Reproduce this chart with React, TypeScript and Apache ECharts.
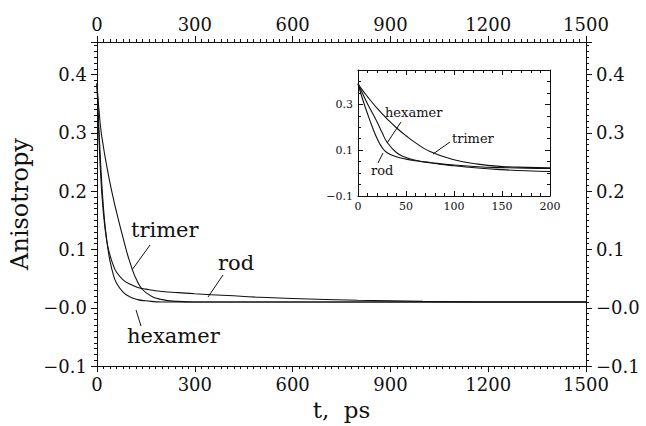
import React, { useEffect, useRef } from "react";
import * as echarts from "echarts";

// Main panel data (t in ps)
const mainT = [0, 10, 20, 30, 40, 50, 60, 80, 100, 125, 150, 200, 250, 300, 400, 500, 600, 800, 1000, 1200, 1500];
const mainTrimer = [0.385, 0.315, 0.275, 0.243, 0.214, 0.188, 0.164, 0.12, 0.08, 0.044, 0.026, 0.014, 0.011, 0.01, 0.01, 0.01, 0.01, 0.01, 0.01, 0.01, 0.01];
const mainHexamer = [0.385, 0.26, 0.17, 0.115, 0.08, 0.057, 0.042, 0.027, 0.019, 0.014, 0.012, 0.01, 0.01, 0.01, 0.01, 0.01, 0.01, 0.01, 0.01, 0.01, 0.01];
const mainRod = [0.385, 0.24, 0.16, 0.115, 0.09, 0.073, 0.061, 0.048, 0.041, 0.035, 0.032, 0.028, 0.026, 0.024, 0.021, 0.018, 0.016, 0.013, 0.011, 0.01, 0.01];

// Inset data (t in ps, 0-200)
const insetT = [0, 5, 10, 15, 20, 25, 30, 40, 50, 60, 75, 100, 125, 150, 175, 200];
const insetTrimer = [0.39, 0.36, 0.333, 0.307, 0.283, 0.26, 0.238, 0.198, 0.163, 0.132, 0.094, 0.058, 0.039, 0.029, 0.025, 0.023];
const insetHexamer = [0.39, 0.345, 0.302, 0.262, 0.222, 0.178, 0.137, 0.09, 0.068, 0.056, 0.045, 0.032, 0.022, 0.015, 0.01, 0.007];
const insetRod = [0.39, 0.32, 0.258, 0.2, 0.15, 0.112, 0.09, 0.071, 0.061, 0.054, 0.046, 0.035, 0.028, 0.024, 0.021, 0.02];

const FONT = '"DejaVu Serif", "Liberation Serif", serif';
const INK = "#111";

const pairs = (xs: number[], ys: number[]) => xs.map((x, i) => [x, ys[i]]);

const fmtY = (v: number) => {
  if (Math.abs(v) < 1e-9) return "\u22120.0";
  if (v < 0) return "\u2212" + Math.abs(v).toFixed(1);
  return v.toFixed(1);
};
const fmtX = (v: number) => String(Math.round(v));

export default function App() {
  const ref = useRef<HTMLDivElement>(null);
  useEffect(() => {
    if (!ref.current) return;
    const chart = echarts.init(ref.current, undefined, { renderer: "svg" });
    const axisLine = { show: true, onZero: false, lineStyle: { color: INK, width: 1 } };
    const mainX = (pos: "bottom" | "top") => ({
      type: "value",
      gridIndex: 0,
      position: pos,
      min: 0,
      max: 1500,
      interval: 300,
      axisLine,
      axisTick: { show: true, length: 6, lineStyle: { color: INK } },
      minorTick: { show: true, splitNumber: 15, length: 3, lineStyle: { color: INK } },
      splitLine: { show: false },
      axisLabel: { fontFamily: FONT, fontSize: 18, color: INK, margin: 9, formatter: fmtX },
      ...(pos === "bottom"
        ? {
            name: "t,  ps",
            nameLocation: "middle",
            nameGap: 29,
            nameTextStyle: { fontFamily: FONT, fontSize: 23, color: INK },
          }
        : {}),
    });
    const mainY = (pos: "left" | "right") => ({
      type: "value",
      gridIndex: 0,
      position: pos,
      min: -0.1,
      max: 0.456,
      interval: 0.1,
      axisLine,
      axisTick: { show: true, length: 6, lineStyle: { color: INK } },
      minorTick: { show: true, splitNumber: 10, length: 3, lineStyle: { color: INK } },
      splitLine: { show: false },
      axisLabel: {
        fontFamily: FONT,
        fontSize: 18,
        color: INK,
        margin: 10,
        showMaxLabel: false,
        formatter: fmtY,
      },
      ...(pos === "left"
        ? {
            name: "Anisotropy",
            nameLocation: "middle",
            nameGap: 61,
            nameTextStyle: { fontFamily: FONT, fontSize: 24, color: INK },
          }
        : {}),
    });
    const insetX = (pos: "bottom" | "top") => ({
      type: "value",
      gridIndex: 1,
      position: pos,
      min: 0,
      max: 200,
      interval: 50,
      axisLine,
      axisTick: { show: true, inside: true, length: 5, lineStyle: { color: INK } },
      minorTick: { show: true, splitNumber: 5, length: 3, lineStyle: { color: INK } },
      splitLine: { show: false },
      axisLabel: { show: pos === "bottom", fontFamily: FONT, fontSize: 11, color: INK, margin: 5, formatter: fmtX },
    });
    const insetY = (pos: "left" | "right") => ({
      type: "value",
      gridIndex: 1,
      position: pos,
      min: -0.1,
      max: 0.45,
      interval: 0.2,
      axisLine,
      axisTick: { show: true, inside: true, length: 5, lineStyle: { color: INK } },
      minorTick: { show: true, splitNumber: 4, length: 3, lineStyle: { color: INK } },
      splitLine: { show: false },
      axisLabel: {
        show: pos === "left",
        fontFamily: FONT,
        fontSize: 11,
        color: INK,
        margin: 5,
        showMaxLabel: false,
        formatter: fmtY,
      },
    });
    const line = (name: string, data: number[][], idx: number) => ({
      type: "line",
      name,
      xAxisIndex: idx === 0 ? 0 : 2,
      yAxisIndex: idx === 0 ? 0 : 2,
      data,
      symbol: "none",
      smooth: 0.5,
      lineStyle: { color: INK, width: 1.1 },
      z: 3,
    });
    const txt = (text: string, x: number, y: number, size: number) => ({
      type: "text",
      x,
      y,
      z: 10,
      style: { text, fontFamily: FONT, fontSize: size, fill: INK, verticalAlign: "middle" },
    });
    const seg = (x1: number, y1: number, x2: number, y2: number) => ({
      type: "line",
      z: 10,
      shape: { x1, y1, x2, y2 },
      style: { stroke: INK, lineWidth: 1 },
    });
    chart.setOption({
      animation: false,
      backgroundColor: "#fff",
      grid: [
        { left: 97, right: 60, top: 42, bottom: 56 },
        { left: 358, right: 96, top: 70, bottom: 230 },
      ],
      xAxis: [mainX("bottom"), mainX("top"), insetX("bottom"), insetX("top")],
      yAxis: [mainY("left"), mainY("right"), insetY("left"), insetY("right")],
      series: [
        line("trimer", pairs(mainT, mainTrimer), 0),
        line("hexamer", pairs(mainT, mainHexamer), 0),
        line("rod", pairs(mainT, mainRod), 0),
        line("trimer-inset", pairs(insetT, insetTrimer), 1),
        line("hexamer-inset", pairs(insetT, insetHexamer), 1),
        line("rod-inset", pairs(insetT, insetRod), 1),
      ],
      graphic: [
        txt("trimer", 131, 230, 21),
        seg(150, 245, 132, 270),
        txt("rod", 218, 263, 21),
        seg(223, 275, 208, 297),
        txt("hexamer", 127, 336, 21),
        seg(141, 326, 136, 310),
        txt("hexamer", 385, 112, 13),
        seg(401, 122, 387, 143),
        txt("trimer", 452, 138, 13),
        seg(450, 142, 433, 154),
        txt("rod", 371, 170, 13),
        seg(378, 163, 383, 153),
      ],
    });
    return () => chart.dispose();
  }, []);
  return (
    <div
      ref={ref}
      style={{ position: "absolute", left: 0, top: 0, width: 646, height: 426, background: "#fff" }}
    />
  );
}
